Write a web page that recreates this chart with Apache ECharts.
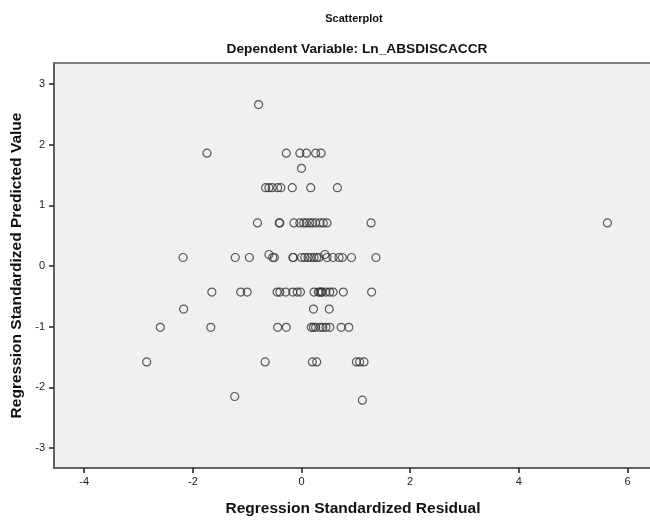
<!DOCTYPE html>
<html>
<head>
<meta charset="utf-8">
<script src="https://cdn.jsdelivr.net/npm/echarts@6/dist/echarts.min.js"></script>
<style>html,body{margin:0;padding:0;background:#fff}#c{width:650px;height:520px}</style>
</head>
<body>
<div id="c"></div>
<script>
const titleText = 'Scatterplot';
const subtitleText = 'Dependent Variable: Ln_ABSDISCACCR';
const xName = 'Regression Standardized Residual';
const yName = 'Regression Standardized Predicted Value';
const xTicks = [-4, -2, 0, 2, 4, 6];
const yTicks = [-3, -2, -1, 0, 1, 2, 3];

const residual = [
  -0.79,
  -1.74, -0.28, -0.03, 0.09, 0.26, 0.36,
  0.00,
  -0.66, -0.60, -0.54, -0.44, -0.38, -0.17, 0.17, 0.66,
  -0.81, -0.41, -0.40, -0.14, -0.03, 0.04, 0.09, 0.15, 0.20, 0.26, 0.34, 0.40, 0.47, 1.28, 5.63,
  -0.60, 0.43,
  -2.18, -1.22, -0.96, -0.53, -0.50, -0.16, -0.15, 0.00, 0.06, 0.12, 0.17, 0.23, 0.28, 0.32, 0.47, 0.58, 0.69, 0.75, 0.92, 1.37,
  -1.65, -1.12, -1.00, -0.45, -0.40, -0.29, -0.16, -0.08, -0.02, 0.23, 0.31, 0.34, 0.36, 0.38, 0.45, 0.52, 0.58, 0.77, 1.29,
  -2.17, 0.22, 0.51,
  -2.60, -1.67, -0.44, -0.28, 0.18, 0.22, 0.26, 0.34, 0.39, 0.45, 0.52, 0.73, 0.87,
  -2.85, -0.67, 0.20, 0.28, 1.01, 1.07, 1.15,
  -1.23,
  1.12
];
const predicted = [
  2.66,
  1.86, 1.86, 1.86, 1.86, 1.86, 1.86,
  1.61,
  1.29, 1.29, 1.29, 1.29, 1.29, 1.29, 1.29, 1.29,
  0.71, 0.71, 0.71, 0.71, 0.71, 0.71, 0.71, 0.71, 0.71, 0.71, 0.71, 0.71, 0.71, 0.71, 0.71,
  0.19, 0.19,
  0.14, 0.14, 0.14, 0.14, 0.14, 0.14, 0.14, 0.14, 0.14, 0.14, 0.14, 0.14, 0.14, 0.14, 0.14, 0.14, 0.14, 0.14, 0.14, 0.14,
  -0.43, -0.43, -0.43, -0.43, -0.43, -0.43, -0.43, -0.43, -0.43, -0.43, -0.43, -0.43, -0.43, -0.43, -0.43, -0.43, -0.43, -0.43, -0.43,
  -0.71, -0.71, -0.71,
  -1.01, -1.01, -1.01, -1.01, -1.01, -1.01, -1.01, -1.01, -1.01, -1.01, -1.01, -1.01, -1.01,
  -1.58, -1.58, -1.58, -1.58, -1.58, -1.58, -1.58,
  -2.15,
  -2.21
];

const points = residual.map((r, i) => [r, predicted[i]]);
const font = 'Liberation Sans, Arial, sans-serif';

const chart = echarts.init(document.getElementById('c'), null, {renderer: 'canvas'});
chart.setOption({
  animation: false,
  backgroundColor: '#ffffff',
  title: [
    {text: titleText, left: 349, top: 8, textAlign: 'center',
     textStyle: {fontFamily: font, fontSize: 11, fontWeight: 'bold', color: '#111'}},
    {text: subtitleText, left: 352, top: 37, textAlign: 'center',
     textStyle: {fontFamily: font, fontSize: 13.7, fontWeight: 'bold', color: '#111'}}
  ],
  grid: {
    left: 54, top: 63, right: -2, bottom: 52,
    outerBoundsMode: 'none', containLabel: false,
    show: true, backgroundColor: '#f0f0f0', borderColor: '#5a5a5a', borderWidth: 1.5
  },
  xAxis: {
    type: 'value', min: -4.556, max: 6.451,
    name: xName, nameLocation: 'middle', nameGap: 33,
    nameTextStyle: {fontFamily: font, fontSize: 15.5, fontWeight: 'bold', color: '#111'},
    axisLine: {show: true, onZero: false, lineStyle: {color: '#5a5a5a', width: 1.5}},
    axisTick: {show: true, customValues: xTicks, length: 5, lineStyle: {color: '#222', width: 1.5}},
    axisLabel: {customValues: xTicks, fontFamily: font, fontSize: 11, color: '#222', margin: 8},
    splitLine: {show: false}
  },
  yAxis: {
    type: 'value', min: -3.328, max: 3.345,
    name: yName, nameLocation: 'middle', nameGap: 28, nameRotate: 90,
    nameTextStyle: {fontFamily: font, fontSize: 15.5, fontWeight: 'bold', color: '#111'},
    axisLine: {show: true, onZero: false, lineStyle: {color: '#5a5a5a', width: 1.5}},
    axisTick: {show: true, customValues: yTicks, length: 5, lineStyle: {color: '#222', width: 1.5}},
    axisLabel: {customValues: yTicks, fontFamily: font, fontSize: 11, color: '#222', margin: 9},
    splitLine: {show: false}
  },
  series: [{
    type: 'scatter',
    data: points,
    symbol: 'circle',
    symbolSize: 8,
    itemStyle: {color: 'rgba(0,0,0,0)', borderColor: '#333', borderWidth: 1.2}
  }]
});
</script>
</body>
</html>
